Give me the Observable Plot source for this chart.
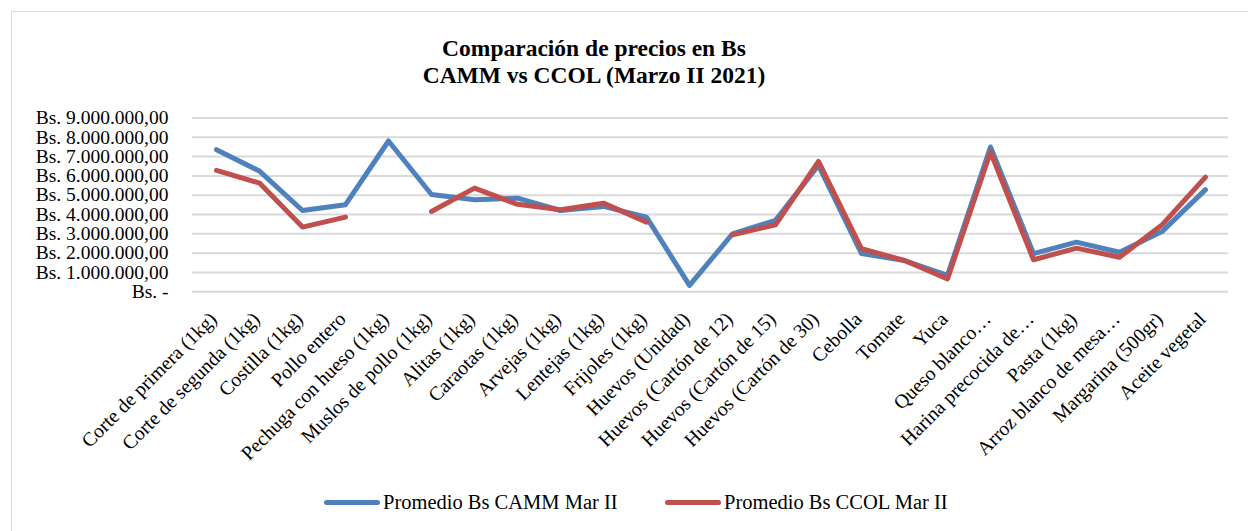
<!DOCTYPE html>
<html>
<head>
<meta charset="utf-8">
<script src="https://cdn.jsdelivr.net/npm/d3@7"></script>
<script src="https://cdn.jsdelivr.net/npm/@observablehq/plot@0.6"></script>
</head>
<body style="margin:0;padding:0;background:#fff;">
<div id="wrap" style="position:relative;width:1248px;height:531px;overflow:hidden;font-family:'Liberation Serif',Tinos,'Times New Roman',serif;color:#000;">
  <div style="position:absolute;left:11px;top:11px;width:1300px;height:600px;border-left:1px solid #d9d9d9;border-top:1px solid #d9d9d9;"></div>
  <div id="title" style="position:relative;height:100px;box-sizing:border-box;padding-top:35px;text-align:center;font-family:'Liberation Serif',Tinos,'Times New Roman',serif;font-weight:bold;font-size:23.5px;line-height:27px;width:1188px;">Comparación de precios en Bs<br>CAMM vs CCOL (Marzo II 2021)</div>
  <div id="chart" style="position:relative;"></div>
  <div id="legend" style="position:absolute;top:491px;left:0;width:1248px;font-family:'Liberation Serif',Tinos,'Times New Roman',serif;font-size:20.5px;"></div>
</div>
<script>
const categories = [
  "Corte de primera (1kg)", "Corte de segunda (1kg)", "Costilla (1kg)", "Pollo entero",
  "Pechuga con hueso (1kg)", "Muslos de pollo (1kg)", "Alitas (1kg)", "Caraotas (1kg)",
  "Arvejas (1kg)", "Lentejas (1kg)", "Frijoles (1kg)", "Huevos (Unidad)",
  "Huevos (Cartón de 12)", "Huevos (Cartón de 15)", "Huevos (Cartón de 30)", "Cebolla",
  "Tomate", "Yuca", "Queso blanco…", "Harina precocida de…",
  "Pasta (1kg)", "Arroz blanco de mesa…", "Margarina (500gr)", "Aceite vegetal"
];
const camm = [
  7360000, 6250000, 4210000, 4510000, 7810000, 5040000, 4770000, 4850000,
  4210000, 4420000, 3870000, 330000, 3000000, 3700000, 6550000, 1980000,
  1620000, 850000, 7500000, 1980000, 2570000, 2050000, 3140000, 5290000
];
const ccol = [
  6290000, 5630000, 3350000, 3870000, null, 4160000, 5370000, 4530000,
  4250000, 4590000, 3610000, null, 2950000, 3470000, 6750000, 2230000,
  1620000, 670000, 7240000, 1660000, 2260000, 1790000, 3490000, 5940000
];
const seriesNames = ["Promedio Bs CAMM Mar II", "Promedio Bs CCOL Mar II"];
const seriesColors = ["#4f81bd", "#c0504d"];
const yTicks = [0, 1000000, 2000000, 3000000, 4000000, 5000000, 6000000, 7000000, 8000000, 9000000];

const FONT = "'Liberation Serif', Tinos, 'Times New Roman', serif";

const rows = [];
categories.forEach((c, i) => rows.push({cat: c, serie: seriesNames[0], v: camm[i]}));
categories.forEach((c, i) => rows.push({cat: c, serie: seriesNames[1], v: ccol[i]}));

const fmt = d => {
  if (d === 0) return "Bs. -";
  const s = String(Math.round(d)).replace(/\B(?=(\d{3})+(?!\d))/g, ".");
  return "Bs. " + s + ",00";
};

const chart = Plot.plot({
  width: 1248,
  height: 380,
  marginTop: 17.5,
  marginBottom: 188.7,
  marginLeft: 192,
  marginRight: 20,
  style: { fontFamily: FONT, fontSize: "19.5px", color: "#000", background: "transparent" },
  x: { type: "point", domain: categories, padding: 0.5, align: 0.5, label: null },
  y: { domain: [0, 9000000], label: null },
  color: { domain: seriesNames, range: seriesColors },
  marks: [
    Plot.gridY(yTicks, { stroke: "#d9d9d9", strokeOpacity: 1, strokeWidth: 2 }),
    Plot.axisY({ ticks: yTicks, tickFormat: fmt, tickSize: 0, tickPadding: 24, label: null, fontSize: 19.5 }),
    Plot.axisX({ tickSize: 0, tickRotate: -45, tickPadding: 10, dy: 14, dx: -3, label: null, fontSize: 19.8 }),
    Plot.lineY(rows, { x: "cat", y: "v", z: "serie", stroke: "serie", strokeWidth: 5, strokeLinejoin: "round", strokeLinecap: "round" })
  ]
});
chart.setAttribute("font-family", FONT);
chart.querySelectorAll("text").forEach(t => t.style.fontFamily = FONT);
document.getElementById("chart").appendChild(chart);

const legend = document.getElementById("legend");
const lefts = [324, 665];
seriesNames.forEach((n, i) => {
  const it = document.createElement("div");
  it.style.cssText = "position:absolute;top:0;display:flex;align-items:center;left:" + lefts[i] + "px;";
  const sw = document.createElement("div");
  sw.style.cssText = "width:56px;height:5px;border-radius:3px;margin-right:3px;background:" + seriesColors[i] + ";";
  const tx = document.createElement("span");
  tx.style.fontFamily = FONT;
  tx.textContent = n;
  it.appendChild(sw);
  it.appendChild(tx);
  legend.appendChild(it);
});
</script>
</body>
</html>
